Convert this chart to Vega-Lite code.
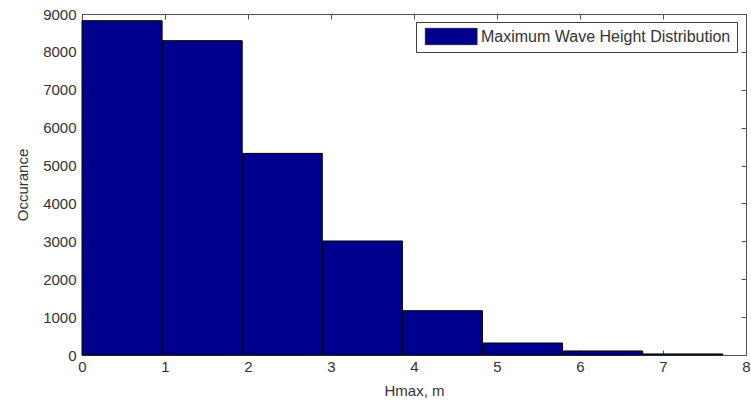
{
  "$schema": "https://vega.github.io/schema/vega-lite/v6.json",
  "width": 664,
  "height": 341,
  "autosize": {"type": "none"},
  "padding": {"left": 82, "top": 14, "right": 5, "bottom": 48},
  "background": "white",
  "config": {
    "view": {"stroke": "#505050", "strokeWidth": 1},
    "font": "Liberation Sans",
    "axis": {
      "grid": false,
      "domainColor": "#505050",
      "tickColor": "#505050",
      "labelColor": "#333333",
      "titleColor": "#333333",
      "labelFont": "Liberation Sans",
      "titleFont": "Liberation Sans",
      "labelFontSize": 15,
      "titleFontSize": 15,
      "titleFontWeight": "normal"
    }
  },
  "data": {
    "values": [
      {"start": 0.0, "end": 0.965, "count": 8823, "series": "Maximum Wave Height Distribution"},
      {"start": 0.965, "end": 1.93, "count": 8296, "series": "Maximum Wave Height Distribution"},
      {"start": 1.93, "end": 2.895, "count": 5321, "series": "Maximum Wave Height Distribution"},
      {"start": 2.895, "end": 3.86, "count": 3009, "series": "Maximum Wave Height Distribution"},
      {"start": 3.86, "end": 4.825, "count": 1169, "series": "Maximum Wave Height Distribution"},
      {"start": 4.825, "end": 5.79, "count": 317, "series": "Maximum Wave Height Distribution"},
      {"start": 5.79, "end": 6.755, "count": 106, "series": "Maximum Wave Height Distribution"},
      {"start": 6.755, "end": 7.72, "count": 28, "series": "Maximum Wave Height Distribution"}
    ]
  },
  "layer": [
    {
      "mark": {"type": "bar", "stroke": "#000000", "strokeWidth": 1},
      "encoding": {
        "x": {
          "field": "start", "type": "quantitative",
          "scale": {"domain": [0, 8], "nice": false, "zero": false},
          "axis": {"title": "Hmax, m", "values": [0,1,2,3,4,5,6,7,8], "tickSize": -5, "labelPadding": 9, "titlePadding": 9, "labelFlush": false}
        },
        "x2": {"field": "end"},
        "y": {
          "field": "count", "type": "quantitative",
          "scale": {"domain": [0, 9000], "nice": false},
          "axis": {"title": "Occurance", "format": "d", "values": [0,1000,2000,3000,4000,5000,6000,7000,8000,9000], "tickSize": -5, "labelPadding": 11, "titlePadding": 12}
        },
        "y2": {"datum": 0},
        "color": {
          "field": "series", "type": "nominal",
          "scale": {"range": ["#00008F"]},
          "legend": {
            "title": null,
            "orient": "none",
            "legendX": 334,
            "legendY": 8,
            "direction": "vertical",
            "strokeColor": "#404040",
            "fillColor": "white",
            "padding": 6,
            "symbolType": "M-0.64,-1H5.66V1H-0.64Z",
            "symbolSize": 272,
            "symbolStrokeColor": "#000000",
            "symbolStrokeWidth": 0.5,
            "symbolOpacity": 1,
            "labelFontSize": 16,
            "labelColor": "#333333",
            "labelFont": "Liberation Sans",
            "labelLimit": 400,
            "labelOffset": 42
          }
        }
      }
    },
    {
      "mark": {"type": "bar", "opacity": 0},
      "encoding": {
        "x": {
          "field": "start", "type": "quantitative",
          "axis": {"orient": "top", "title": null, "labels": false, "values": [0,1,2,3,4,5,6,7,8], "tickSize": -5}
        },
        "x2": {"field": "end"},
        "y": {
          "field": "count", "type": "quantitative",
          "axis": {"orient": "right", "title": null, "labels": false, "values": [0,1000,2000,3000,4000,5000,6000,7000,8000,9000], "tickSize": -5}
        },
        "y2": {"datum": 0}
      }
    }
  ],
  "resolve": {"axis": {"x": "independent", "y": "independent"}}
}
